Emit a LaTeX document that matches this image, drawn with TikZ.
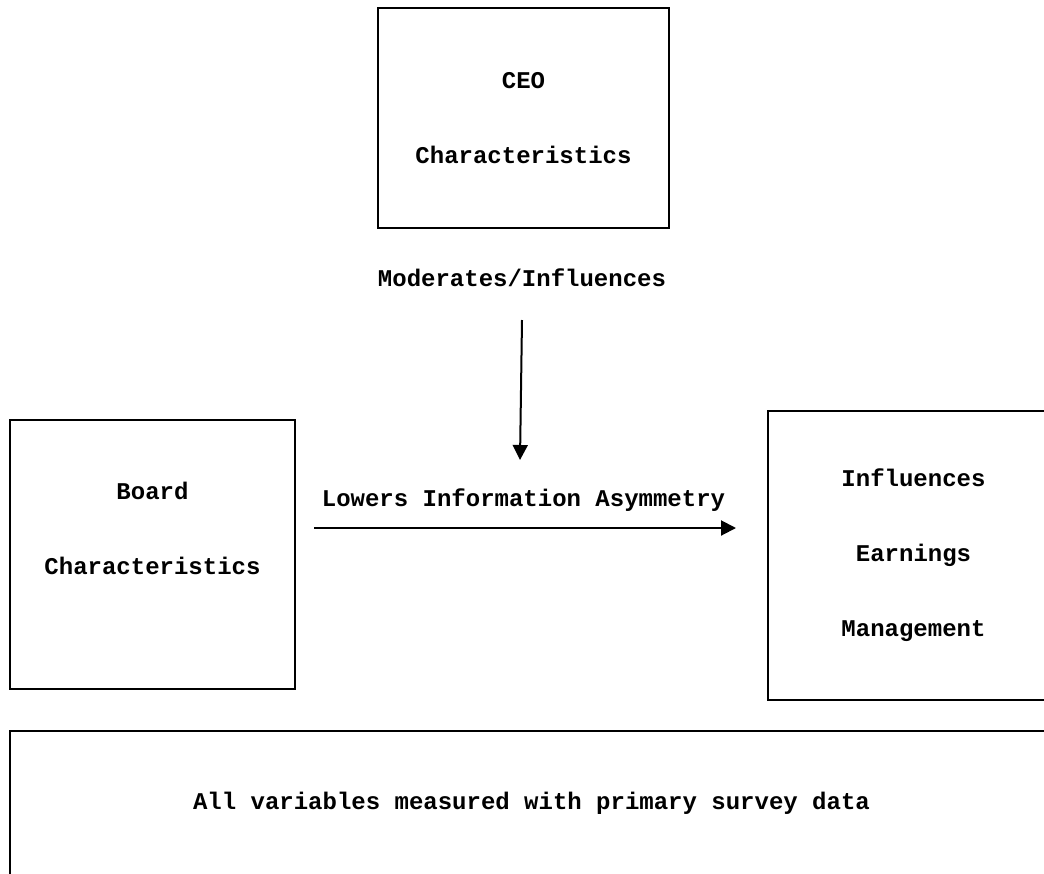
\documentclass[tikz,border=0pt]{standalone}
\usepackage{fontspec}
\setmainfont{Liberation Mono}
\usetikzlibrary{arrows.meta}

\begin{document}
\begin{tikzpicture}[x=0.5pt,y=-0.5pt,line width=1pt,
    every node/.style={font=\fontsize{12pt}{37.5pt}\selectfont\bfseries,align=center},
    box/.style={draw,inner sep=0pt,minimum width=145.5pt},
    arr/.style={-{Triangle[length=7.5pt,width=7.5pt]}}]
  \clip (0,0) rectangle (1044,873);
  \node[box,minimum height=110pt] (ceo) at (523.5,118) {CEO\\Characteristics};
  \node (mod) at (522,278) {Moderates/Influences};
  \node[box,minimum width=142.5pt,minimum height=134.5pt] (board) at (152.5,554.5) {};
  \node (boardtxt) at (152.5,528) {Board\\Characteristics};
  \node[box,minimum height=144.5pt] (em) at (913.5,555.5) {Influences\\Earnings\\Management};
  \node (lowers) at (523.5,500) {Lowers Information Asymmetry};
  \node[box,minimum width=521.5pt,minimum height=72pt] (data) at (531.5,803) {All variables measured with primary survey data};
  \coordinate (cross) at (520,460);
  \draw[arr] ([yshift=-21pt]mod.center) -- (cross);
  \draw[arr] ([xshift=9pt,yshift=13.25pt]board.east) -- ([xshift=-15.5pt,yshift=13.75pt]em.west);
\end{tikzpicture}
\end{document}
